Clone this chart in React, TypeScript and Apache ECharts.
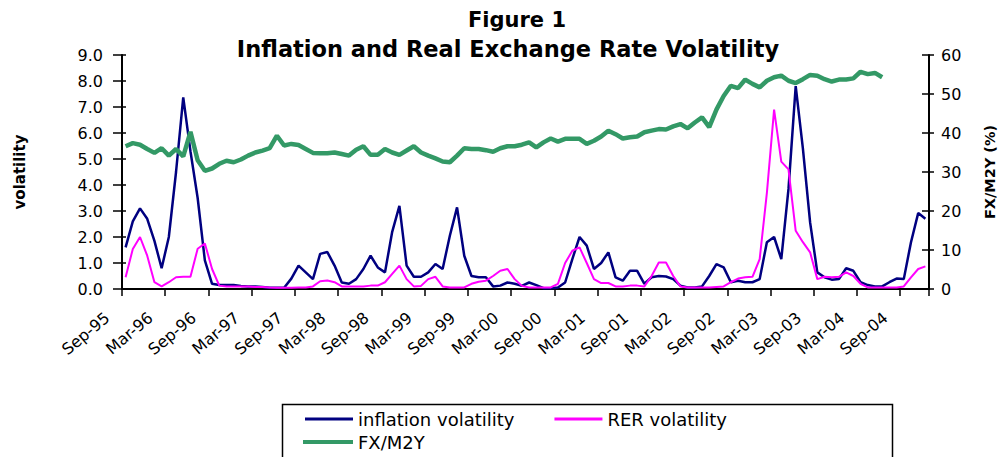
import React, { useEffect, useRef } from "react";
import * as echarts from "echarts";

const FONT = "DejaVu Sans";

const monthNames = ["Jan", "Feb", "Mar", "Apr", "May", "Jun", "Jul", "Aug", "Sep", "Oct", "Nov", "Dec"];
// Monthly categories Sep-95 .. Dec-04
const startMonth = 8; // Sep
const startYear = 1995;
const monthCount = 112;
const categories: string[] = [];
for (let k = 0; k < monthCount; k++) {
  const m = (startMonth + k) % 12;
  const y = startYear + Math.floor((startMonth + k) / 12);
  categories.push(`${monthNames[m]}-${String(y % 100).padStart(2, "0")}`);
}

const inflationVolatility = [
  1.6, 2.6, 3.1, 2.7, 1.85, 0.8, 2.0, 4.5, 7.37, 5.3,
  3.5, 1.1, 0.2, 0.15, 0.15, 0.15, 0.12, 0.1, 0.1, 0.08,
  0.05, 0.05, 0.05, 0.4, 0.9, 0.64, 0.38, 1.35, 1.42, 0.9,
  0.25, 0.2, 0.38, 0.77, 1.28, 0.83, 0.64, 2.2, 3.2, 0.9,
  0.47, 0.47, 0.64, 0.96, 0.77, 2.05, 3.14, 1.28, 0.5, 0.45,
  0.45, 0.1, 0.13, 0.25, 0.2, 0.12, 0.25, 0.15, 0.03, 0.03,
  0.06, 0.25, 1.15, 2.0, 1.67, 0.77, 1.0, 1.41, 0.45, 0.32,
  0.7, 0.7, 0.2, 0.45, 0.5, 0.48, 0.38, 0.13, 0.06, 0.06,
  0.1, 0.5, 0.96, 0.83, 0.26, 0.32, 0.26, 0.26, 0.38, 1.8,
  2.0, 1.15, 3.85, 7.8, 5.4, 2.56, 0.64, 0.45, 0.36, 0.38,
  0.8, 0.7, 0.26, 0.15, 0.1, 0.1, 0.26, 0.4, 0.38, 1.8,
  2.92, 2.7,
];

const rerVolatility = [
  0.45, 1.54, 2.0, 1.28, 0.26, 0.1, 0.26, 0.45, 0.47, 0.47,
  1.55, 1.75, 0.77, 0.13, 0.1, 0.1, 0.1, 0.1, 0.08, 0.08,
  0.06, 0.05, 0.05, 0.05, 0.06, 0.06, 0.1, 0.3, 0.33, 0.26,
  0.1, 0.1, 0.1, 0.1, 0.13, 0.13, 0.26, 0.58, 0.9, 0.38,
  0.1, 0.12, 0.38, 0.47, 0.1, 0.06, 0.06, 0.06, 0.2, 0.28,
  0.32, 0.5, 0.7, 0.77, 0.38, 0.12, 0.06, 0.06, 0.06, 0.06,
  0.2, 1.0, 1.47, 1.6, 1.0, 0.38, 0.23, 0.23, 0.1, 0.1,
  0.13, 0.13, 0.1, 0.5, 1.02, 1.02, 0.5, 0.1, 0.06, 0.06,
  0.06, 0.06, 0.08, 0.1, 0.26, 0.4, 0.45, 0.47, 1.15, 3.7,
  6.9, 4.9, 4.6, 2.24, 1.8, 1.41, 0.38, 0.47, 0.45, 0.47,
  0.64, 0.5, 0.2, 0.06, 0.06, 0.06, 0.06, 0.06, 0.1, 0.45,
  0.77, 0.87,
];

const fxM2Y = [
  36.6, 37.4, 37.0, 35.9, 34.9, 36.1, 34.2, 35.9, 34.0, 40.3,
  33.0, 30.3, 30.9, 32.1, 32.9, 32.5, 33.2, 34.2, 35.0, 35.5,
  36.1, 39.3, 36.8, 37.2, 36.9, 35.9, 34.9, 34.8, 34.8, 35.0,
  34.6, 34.2, 35.7, 36.6, 34.4, 34.4, 35.9, 35.0, 34.4, 35.5,
  36.6, 35.0, 34.2, 33.5, 32.7, 32.5, 34.2, 36.1, 35.9, 35.9,
  35.6, 35.2, 36.1, 36.6, 36.6, 37.0, 37.6, 36.3, 37.6, 38.6,
  37.8, 38.5, 38.5, 38.5, 37.2, 38.0, 39.1, 40.6, 39.7, 38.6,
  38.9, 39.1, 40.2, 40.6, 41.0, 40.9, 41.7, 42.3, 41.2, 42.7,
  44.0, 41.5, 46.0, 49.5, 52.1, 51.5, 53.7, 52.6, 51.7, 53.4,
  54.3, 54.7, 53.4, 52.8, 53.8, 54.9, 54.7, 53.8, 53.2, 53.7,
  53.7, 54.0, 55.7, 55.1, 55.4, 54.3,
];

const leftTicks = { min: 0, max: 9, interval: 1 };
const rightTicks = { min: 0, max: 60, interval: 10 };

const axisColor = "#000";

export default function App() {
  const ref = useRef<HTMLDivElement>(null);

  useEffect(() => {
    if (!ref.current) return;
    const chart = echarts.init(ref.current, undefined, { renderer: "svg" });
    const tickLabel = { fontFamily: FONT, fontSize: 16, color: "#000" };
    const option: any = {
      animation: false,
      backgroundColor: "#fff",
      title: [
        {
          text: "Figure 1",
          left: 517,
          top: 9,
          padding: 0,
          textAlign: "center",
          textStyle: { fontFamily: FONT, fontWeight: "bold", fontSize: 21, color: "#000" },
        },
        {
          text: "Inflation and Real Exchange Rate Volatility",
          left: 508,
          top: 37,
          padding: 0,
          textAlign: "center",
          textStyle: { fontFamily: FONT, fontWeight: "bold", fontSize: 22.5, color: "#000" },
        },
      ],
      legend: [
        {
          data: ["inflation volatility", "RER volatility"],
          left: 305,
          top: 410,
          padding: 0,
          itemWidth: 48,
          itemHeight: 3,
          itemGap: 40,
          icon: "rect",
          textStyle: { fontFamily: FONT, fontSize: 18, color: "#000" },
        },
        {
          data: ["FX/M2Y"],
          left: 303,
          top: 433,
          padding: 0,
          itemWidth: 50,
          itemHeight: 4,
          icon: "rect",
          textStyle: { fontFamily: FONT, fontSize: 18, color: "#000" },
        },
      ],
      graphic: [
        {
          type: "rect",
          shape: { x: 282.5, y: 404.5, width: 610, height: 70 },
          style: { fill: "none", stroke: "#000", lineWidth: 1.5 },
          silent: true,
        },
      ],
      grid: { left: 122, right: 74, top: 55, bottom: 168, containLabel: false },
      xAxis: {
        type: "category",
        data: categories,
        boundaryGap: true,
        axisLine: { lineStyle: { color: axisColor, width: 2 } },
        axisTick: { show: true, interval: 5, length: 7, lineStyle: { color: axisColor, width: 1.5 } },
        axisLabel: { interval: 5, rotate: 40, margin: 11, padding: [0, 24, 0, 0], ...tickLabel },
        splitLine: { show: false },
      },
      yAxis: [
        {
          type: "value",
          position: "left",
          ...leftTicks,
          axisLine: { show: true, lineStyle: { color: axisColor, width: 2 } },
          axisTick: { show: true, length: 9, lineStyle: { color: axisColor, width: 1.5 } },
          axisLabel: { margin: 19, formatter: (v: number) => v.toFixed(1), ...tickLabel },
          splitLine: { show: false },
          name: "volatility",
          nameLocation: "middle",
          nameRotate: 90,
          nameGap: 95,
          nameTextStyle: { fontFamily: FONT, fontWeight: "bold", fontSize: 15, color: "#000" },
        },
        {
          type: "value",
          position: "right",
          ...rightTicks,
          axisLine: { show: true, lineStyle: { color: axisColor, width: 2 } },
          axisTick: { show: true, length: 5, lineStyle: { color: axisColor, width: 1.5 } },
          axisLabel: { margin: 12, ...tickLabel },
          splitLine: { show: false },
          name: "FX/M2Y (%)",
          nameLocation: "middle",
          nameRotate: 90,
          nameGap: 53,
          nameTextStyle: { fontFamily: FONT, fontWeight: "bold", fontSize: 14.5, color: "#000" },
        },
        {
          type: "value",
          position: "left",
          ...leftTicks,
          axisLine: { show: false },
          axisTick: { show: true, inside: true, length: 4, lineStyle: { color: axisColor, width: 1.5 } },
          axisLabel: { show: false },
          splitLine: { show: false },
        },
        {
          type: "value",
          position: "right",
          ...rightTicks,
          axisLine: { show: false },
          axisTick: { show: true, inside: true, length: 7, lineStyle: { color: axisColor, width: 1.5 } },
          axisLabel: { show: false },
          splitLine: { show: false },
        },
      ],
      series: [
        {
          name: "inflation volatility",
          type: "line",
          yAxisIndex: 0,
          data: inflationVolatility,
          symbol: "none",
          showSymbol: false,
          lineStyle: { color: "#000080", width: 2.5 },
          itemStyle: { color: "#000080" },
        },
        {
          name: "RER volatility",
          type: "line",
          yAxisIndex: 0,
          data: rerVolatility,
          symbol: "none",
          showSymbol: false,
          lineStyle: { color: "#FF00FF", width: 2 },
          itemStyle: { color: "#FF00FF" },
        },
        {
          name: "FX/M2Y",
          type: "line",
          yAxisIndex: 1,
          data: fxM2Y,
          symbol: "none",
          showSymbol: false,
          lineStyle: { color: "#339966", width: 4.5 },
          itemStyle: { color: "#339966" },
        },
      ],
    };
    chart.setOption(option);
    return () => chart.dispose();
  }, []);

  return (
    <div
      ref={ref}
      style={{ position: "fixed", left: 0, top: 0, width: 1005, height: 457, background: "#fff" }}
    />
  );
}
